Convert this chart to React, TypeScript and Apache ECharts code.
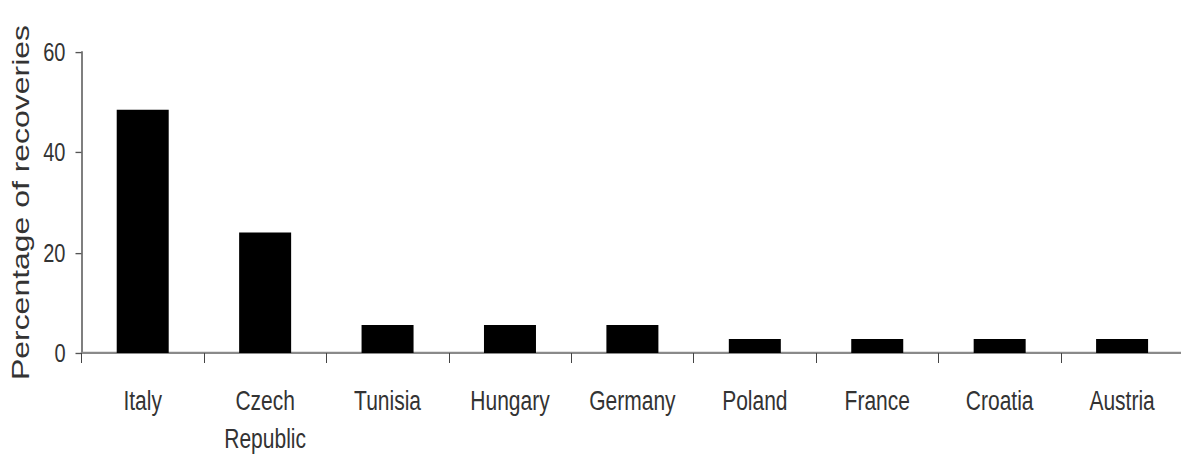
import React, { useEffect, useRef } from "react";
import * as echarts from "echarts";

const countries = ["Italy", "Czech\nRepublic", "Tunisia", "Hungary", "Germany", "Poland", "France", "Croatia", "Austria"];
const recoveries = [48.5, 24, 5.6, 5.6, 5.6, 2.8, 2.8, 2.8, 2.8];
const yTicks = { min: 0, max: 60, interval: 20 };
const yTitle = "Percentage of recoveries";

// The reference figure is stretched vertically; the chart is drawn at a
// reduced height and stretched back with a CSS transform.
const W = 1181;
const H_OUT = 454;
const H_IN = 341;
const K = H_OUT / H_IN;

export default function App() {
  const ref = useRef<HTMLDivElement>(null);
  useEffect(() => {
    if (!ref.current) return;
    const chart = echarts.init(ref.current, null, { renderer: "svg" });
    const font = "'Liberation Sans', Arial, Helvetica, sans-serif";
    const axisY = 353 / K;
    chart.setOption({
      animation: false,
      backgroundColor: "#ffffff",
      grid: {
        left: 81.5,
        right: -2.3,
        top: 52 / K,
        bottom: H_IN - axisY,
        containLabel: false,
        outerBoundsMode: "none",
      },
      xAxis: {
        type: "category",
        data: countries,
        axisLine: { show: true, lineStyle: { color: "#8a8a8a", width: 1.6 } },
        axisTick: { show: true, length: 10 / K, inside: false, lineStyle: { color: "#444", width: 1 } },
        axisLabel: {
          color: "#333333",
          fontFamily: font,
          fontSize: 21,
          lineHeight: 28.6,
          margin: 21.5,
          interval: 0,
        },
        splitLine: { show: false },
      },
      yAxis: {
        type: "value",
        min: yTicks.min,
        max: yTicks.max,
        interval: yTicks.interval,
        name: yTitle,
        nameLocation: "middle",
        nameGap: 43,
        nameTextStyle: {
          color: "#333333",
          fontFamily: font,
          fontSize: 24,
        },
        axisLine: { show: true, lineStyle: { color: "#555", width: 1.5 } },
        axisTick: { show: true, length: 6, inside: false, lineStyle: { color: "#555", width: 1 } },
        axisLabel: {
          color: "#333333",
          fontFamily: font,
          fontSize: 20,
          margin: 16,
        },
        splitLine: { show: false },
      },
      series: [
        {
          type: "bar",
          data: recoveries,
          barWidth: 52,
          itemStyle: { color: "#000000" },
        },
      ],
    });
    return () => chart.dispose();
  }, []);
  return (
    <div
      style={{ position: "absolute", left: 0, top: 0, width: W, height: H_OUT, overflow: "hidden", background: "#fff" }}
    >
      <div
        ref={ref}
        style={{ width: W, height: H_IN, transform: `scaleY(${K})`, transformOrigin: "0 0" }}
      />
    </div>
  );
}
